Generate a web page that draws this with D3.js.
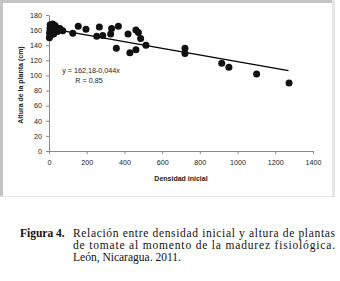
<!DOCTYPE html>
<html>
<head>
<meta charset="utf-8">
<script src="https://cdn.jsdelivr.net/npm/d3@7"></script>
<style>
  body { margin: 0; background: white; }
</style>
</head>
<body>
<div id="container"></div>
<script>
// values
let densidad = [2, 3, 5, 6, 8, 10, 12, 15, 18, 20, 25, 28, 32, 40, 45, 58, 73,
  126, 155, 196, 253, 267, 285, 327, 332, 357, 368, 419, 429, 461, 461, 474, 486, 514,
  721, 721, 916, 954, 1101, 1273];
let altura = [150, 156, 162, 167, 153, 160, 165, 158, 163, 168, 155, 161, 166, 163, 158, 162, 159,
  156, 165, 161, 152, 164, 153, 155, 162, 136, 165, 155, 130, 134, 160, 157, 149, 140,
  136, 129, 116, 111, 102, 90];
let trendX = [0, 1270];
let trendY = [162.18, 106.3];
let xTicks = [0, 200, 400, 600, 800, 1000, 1200, 1400];
let yTicks = [0, 20, 40, 60, 80, 100, 120, 140, 160, 180];

let w = 340;
let h = 281;
let padL = 49, padR = 313, padT = 15, padB = 151;

let viz = d3.select("#container")
  .append("svg")
    .attr("width", w)
    .attr("height", h)
    .style("background-color", "white");

// chart frame
viz.append("line").attr("x1", 1.5).attr("y1", 0).attr("x2", 1.5).attr("y2", 197)
  .attr("stroke", "#c4c4c4").attr("stroke-width", 3);
viz.append("line").attr("x1", 0).attr("y1", 1.5).attr("x2", 335).attr("y2", 1.5)
  .attr("stroke", "#c4c4c4").attr("stroke-width", 3);
viz.append("line").attr("x1", 333.5).attr("y1", 0).attr("x2", 333.5).attr("y2", 197)
  .attr("stroke", "#e6e6e6").attr("stroke-width", 3);
viz.append("line").attr("x1", 0).attr("y1", 196.5).attr("x2", 335).attr("y2", 196.5)
  .attr("stroke", "#e4e4e4").attr("stroke-width", 1);

let xScale = d3.scaleLinear().domain([0, 1400]).range([padL, padR]);
let yScale = d3.scaleLinear().domain([0, 180]).range([padB, padT]);

let chartFont = "'Liberation Sans', Arial, sans-serif";

let xAxisGroup = viz.append("g")
  .attr("transform", "translate(0," + padB + ")")
  .call(d3.axisBottom(xScale).tickValues(xTicks).tickFormat(d3.format("d"))
    .tickSize(3).tickSizeOuter(0).tickPadding(6));
let yAxisGroup = viz.append("g")
  .attr("transform", "translate(" + padL + ",0)")
  .call(d3.axisLeft(yScale).tickValues(yTicks).tickFormat(d3.format("d"))
    .tickSize(3).tickSizeOuter(0).tickPadding(4));

[xAxisGroup, yAxisGroup].forEach(function(g){
  g.select(".domain").attr("stroke", "#8a8a8a");
  g.selectAll(".tick line").attr("stroke", "#8a8a8a");
  g.selectAll(".tick text")
    .attr("fill", "#222")
    .attr("font-family", chartFont)
    .attr("font-size", 7.2);
});

// axis titles
viz.append("text")
  .text("Densidad inicial")
  .attr("x", 181)
  .attr("y", 181)
  .attr("text-anchor", "middle")
  .attr("font-family", chartFont)
  .attr("font-weight", "bold")
  .attr("font-size", 7)
  .attr("fill", "#222");

viz.append("text")
  .text("Altura de la planta (cm)")
  .attr("transform", "translate(23,85) rotate(-90)")
  .attr("text-anchor", "middle")
  .attr("font-family", chartFont)
  .attr("font-weight", "bold")
  .attr("font-size", 7)
  .attr("fill", "#222");

// trend line
viz.append("line")
  .attr("x1", xScale(trendX[0]))
  .attr("y1", yScale(trendY[0]))
  .attr("x2", xScale(trendX[1]))
  .attr("y2", yScale(trendY[1]))
  .attr("stroke", "black")
  .attr("stroke-width", 1.2);

// points
viz.append("g").selectAll("circle")
  .data(densidad)
  .enter()
  .append("circle")
    .attr("cx", function(d){ return xScale(d); })
    .attr("cy", function(d, i){ return yScale(altura[i]); })
    .attr("r", 3.5)
    .attr("fill", "#111");

// equation
viz.append("text")
  .text("y = 162,18-0,044x")
  .attr("x", 91)
  .attr("y", 73)
  .attr("text-anchor", "middle")
  .attr("font-family", chartFont)
  .attr("font-size", 7.2)
  .attr("fill", "#222");
viz.append("text")
  .text("R = 0,85")
  .attr("x", 89)
  .attr("y", 82.5)
  .attr("text-anchor", "middle")
  .attr("font-family", chartFont)
  .attr("font-size", 7.2)
  .attr("fill", "#222");

// caption
let serif = "'Liberation Serif', 'Times New Roman', serif";
viz.append("text")
  .text("Figura 4.")
  .attr("x", 20)
  .attr("y", 237)
  .attr("font-family", serif)
  .attr("font-weight", "bold")
  .attr("font-size", 11.5)
  .attr("fill", "#111");

let lines = ["Relación entre densidad inicial y altura de plantas",
  "de tomate al momento de la madurez fisiológica.",
  "León, Nicaragua. 2011."];
lines.forEach(function(l, i){
  let t = viz.append("text")
    .text(l)
    .attr("x", 73)
    .attr("y", 237 + i * 12)
    .attr("font-family", serif)
    .attr("font-size", 11.5)
    .attr("fill", "#111");
  if (i < 2) {
    t.attr("textLength", 262).attr("lengthAdjust", "spacing");
  }
});
</script>
</body>
</html>
